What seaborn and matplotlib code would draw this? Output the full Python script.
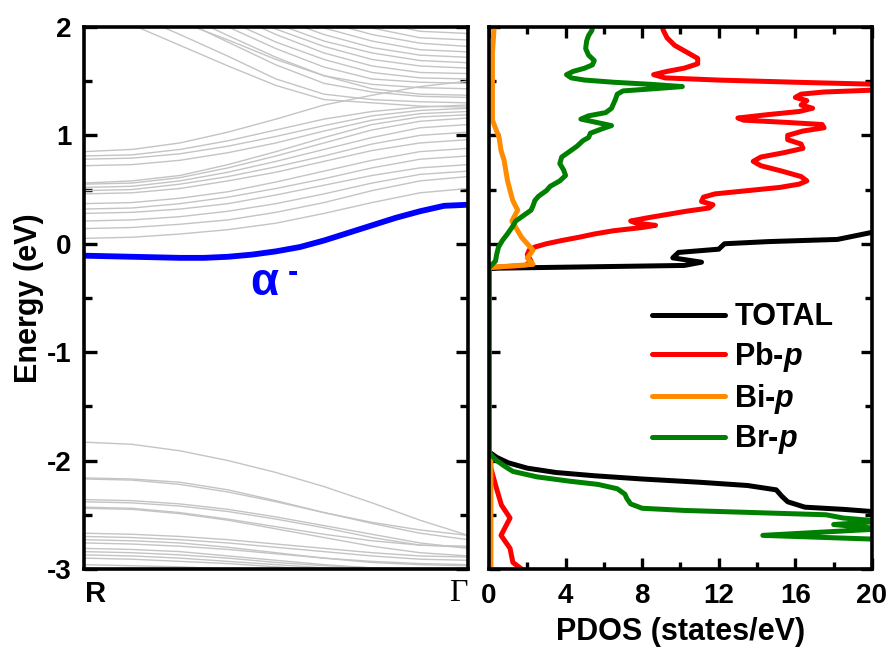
import numpy as np
import pandas as pd
import matplotlib
matplotlib.use("Agg")
import matplotlib.pyplot as plt
from matplotlib.ticker import MultipleLocator
import seaborn as sns

# ---- band structure (R -> Gamma), energies in eV ----
k_path = [0.0, 0.125, 0.25, 0.375, 0.5, 0.625, 0.75, 0.875, 1.0]

k_alpha = [0.0, 0.0625, 0.125, 0.1875, 0.25, 0.3125, 0.375, 0.4375, 0.5,
           0.5625, 0.625, 0.6875, 0.75, 0.8125, 0.875, 0.9375, 1.0]
alpha_band = [-0.11, -0.115, -0.12, -0.125, -0.13, -0.13, -0.12, -0.10, -0.07,
              -0.03, 0.03, 0.10, 0.17, 0.24, 0.30, 0.35, 0.36]

cond_bands = [
    [0.05, 0.06, 0.09, 0.13, 0.19, 0.28, 0.38, 0.47, 0.51],
    [0.14, 0.15, 0.18, 0.22, 0.29, 0.38, 0.49, 0.58, 0.62],
    [0.21, 0.22, 0.25, 0.30, 0.37, 0.46, 0.56, 0.64, 0.67],
    [0.28, 0.29, 0.32, 0.37, 0.45, 0.54, 0.63, 0.70, 0.73],
    [0.32, 0.33, 0.37, 0.43, 0.51, 0.60, 0.70, 0.78, 0.81],
    [0.37, 0.38, 0.42, 0.48, 0.57, 0.67, 0.77, 0.85, 0.88],
    [0.46, 0.47, 0.51, 0.58, 0.66, 0.76, 0.86, 0.93, 0.96],
    [0.49, 0.50, 0.55, 0.62, 0.71, 0.81, 0.92, 1.00, 1.03],
    [0.52, 0.53, 0.58, 0.66, 0.76, 0.87, 0.98, 1.07, 1.10],
    [0.55, 0.56, 0.61, 0.70, 0.81, 0.93, 1.05, 1.13, 1.16],
    [0.56, 0.58, 0.63, 0.73, 0.85, 0.98, 1.10, 1.17, 1.19],
    [0.72, 0.73, 0.77, 0.84, 0.93, 1.04, 1.14, 1.20, 1.22],
    [0.78, 0.79, 0.83, 0.90, 0.99, 1.09, 1.18, 1.23, 1.25],
    [0.81, 0.82, 0.87, 0.95, 1.05, 1.15, 1.22, 1.26, 1.28],
    [0.85, 0.87, 0.93, 1.03, 1.15, 1.28, 1.37, 1.45, 1.50],
    [2.22, 2.02, 1.83, 1.64, 1.46, 1.33, 1.30, 1.27, 1.26],
    [2.30, 2.12, 1.93, 1.73, 1.52, 1.38, 1.33, 1.31, 1.30],
    [2.35, 2.20, 2.05, 1.88, 1.70, 1.55, 1.43, 1.38, 1.37],
    [2.45, 2.27, 2.07, 1.86, 1.65, 1.48, 1.40, 1.36, 1.35],
    [2.50, 2.33, 2.13, 1.92, 1.72, 1.55, 1.47, 1.44, 1.43],
    [2.60, 2.42, 2.21, 2.00, 1.80, 1.63, 1.52, 1.49, 1.48],
    [2.65, 2.48, 2.28, 2.06, 1.86, 1.70, 1.58, 1.53, 1.52],
    [2.70, 2.55, 2.35, 2.13, 1.93, 1.76, 1.64, 1.58, 1.57],
    [2.75, 2.60, 2.40, 2.18, 1.98, 1.82, 1.70, 1.64, 1.62],
    [2.80, 2.65, 2.45, 2.24, 2.03, 1.87, 1.76, 1.69, 1.67],
    [2.85, 2.70, 2.50, 2.30, 2.09, 1.93, 1.81, 1.74, 1.72],
    [2.90, 2.75, 2.57, 2.37, 2.16, 1.99, 1.87, 1.79, 1.77],
    [2.95, 2.80, 2.63, 2.43, 2.23, 2.05, 1.93, 1.85, 1.82],
    [3.00, 2.88, 2.70, 2.50, 2.30, 2.12, 1.99, 1.90, 1.88],
    [3.05, 2.92, 2.76, 2.57, 2.37, 2.19, 2.05, 1.96, 1.94],
]

val_bands = [
    [-1.83, -1.85, -1.91, -2.00, -2.11, -2.24, -2.39, -2.55, -2.69],
    [-2.16, -2.17, -2.20, -2.27, -2.37, -2.48, -2.58, -2.67, -2.73],
    [-2.17, -2.18, -2.22, -2.29, -2.38, -2.48, -2.57, -2.64, -2.69],
    [-2.36, -2.37, -2.40, -2.45, -2.52, -2.60, -2.68, -2.76, -2.81],
    [-2.38, -2.39, -2.42, -2.47, -2.54, -2.62, -2.71, -2.78, -2.80],
    [-2.43, -2.44, -2.48, -2.54, -2.61, -2.68, -2.74, -2.78, -2.79],
    [-2.44, -2.45, -2.49, -2.55, -2.63, -2.71, -2.79, -2.85, -2.88],
    [-2.67, -2.68, -2.70, -2.73, -2.77, -2.81, -2.85, -2.88, -2.89],
    [-2.70, -2.71, -2.73, -2.76, -2.80, -2.84, -2.88, -2.91, -2.92],
    [-2.73, -2.74, -2.76, -2.80, -2.85, -2.90, -2.94, -2.96, -2.97],
    [-2.76, -2.77, -2.79, -2.82, -2.86, -2.90, -2.93, -2.95, -2.96],
    [-2.81, -2.82, -2.84, -2.88, -2.92, -2.96, -2.99, -3.01, -3.02],
    [-2.84, -2.85, -2.87, -2.90, -2.94, -2.97, -2.99, -3.00, -3.00],
    [-2.87, -2.88, -2.90, -2.93, -2.96, -2.99, -3.02, -3.04, -3.05],
    [-2.90, -2.91, -2.93, -2.95, -2.98, -3.01, -3.03, -3.05, -3.05],
    [-2.96, -2.97, -2.98, -3.00, -3.02, -3.04, -3.06, -3.08, -3.08],
]

# ---- PDOS curves (traced top -> bottom), DOS in states/eV ----
total_E = [0.25, 0.105, 0.04, 0.02, 0.0, -0.05, -0.08, -0.13, -0.17, -0.20, -0.225, -0.23,
           -1.92, -1.97, -2.02, -2.07, -2.11, -2.14, -2.17, -2.20, -2.23, -2.27, -2.33,
           -2.38, -2.43, -2.45, -2.47, -2.60, -3.05]
total_dos = [25.0, 20.0, 18.2, 14.6, 12.3, 12.0, 9.9, 9.6, 11.1, 10.2, 0.5, 0.0,
             0.0, 0.4, 1.0, 2.0, 3.5, 5.5, 8.0, 11.0, 13.5, 15.0, 15.3,
             15.6, 16.5, 18.5, 20.0, 24.0, 26.0]

pb_E = [2.05, 1.97, 1.90, 1.83, 1.77, 1.71, 1.66, 1.62, 1.59, 1.56, 1.53, 1.51, 1.49, 1.47,
        1.42, 1.40, 1.38, 1.35, 1.32, 1.28, 1.25, 1.22, 1.19, 1.16, 1.14, 1.12, 1.10, 1.07,
        1.04, 1.00, 0.96, 0.92, 0.88, 0.84, 0.80, 0.76, 0.72, 0.67, 0.62, 0.58, 0.55, 0.52,
        0.49, 0.46, 0.43, 0.39, 0.36, 0.33, 0.30, 0.27, 0.24, 0.21, 0.19, 0.17, 0.15, 0.12,
        0.09, 0.06, 0.03, 0.0, -0.03, -0.06, -0.10, -0.16, -0.20, -0.22,
        -1.93, -2.07, -2.23, -2.41, -2.53, -2.69, -2.81, -2.94, -3.00, -3.05]
pb_dos = [9.0, 9.1, 9.3, 9.7, 10.3, 10.9, 10.9, 10.2, 9.3, 8.6, 9.2, 12.0, 16.0, 20.5,
          20.5, 17.5, 16.3, 16.0, 16.6, 16.3, 16.9, 16.2, 14.5, 13.0, 13.3, 15.5, 17.4, 17.5,
          16.4, 15.6, 15.6, 16.3, 16.4, 15.4, 14.2, 13.8, 14.2, 15.3, 16.3, 16.6, 16.2, 15.2,
          13.5, 11.8, 11.2, 11.1, 11.7, 11.5, 10.3, 9.3, 8.3, 7.4, 7.7, 8.7, 8.0, 6.5,
          5.5, 4.7, 3.8, 3.0, 2.4, 2.1, 2.0, 2.2, 1.9, 0.0,
          0.0, 0.1, 0.35, 0.65, 1.1, 0.63, 1.1, 1.25, 1.7, 1.8]

bi_E = [2.05, 1.97, 1.76, 1.14, 0.98, 0.86, 0.77, 0.58, 0.40, 0.31, 0.21, 0.06, -0.06,
        -0.13, -0.19, -0.22, -1.93, -1.95, -3.05]
bi_dos = [0.26, 0.26, 0.18, 0.18, 0.53, 0.63, 0.79, 0.97, 1.24, 1.5, 1.2, 1.7, 2.3,
          2.0, 2.3, 0.0, 0.0, 0.1, 0.1]

br_E = [2.05, 1.97, 1.92, 1.87, 1.80, 1.74, 1.69, 1.65, 1.62, 1.59, 1.56, 1.53, 1.51, 1.49,
        1.47, 1.45, 1.43, 1.41, 1.38, 1.33, 1.29, 1.25, 1.21, 1.18, 1.15, 1.12, 1.09, 1.06,
        1.02, 0.98, 0.95, 0.90, 0.85, 0.80, 0.74, 0.68, 0.63, 0.58, 0.53, 0.49, 0.44, 0.40,
        0.35, 0.31, 0.26, 0.21, 0.15, 0.09, 0.03, -0.03, -0.10, -0.16, -0.22,
        -1.93, -2.00, -2.05, -2.10, -2.15, -2.19, -2.22, -2.26, -2.31, -2.35, -2.40, -2.44,
        -2.46, -2.50, -2.53, -2.56, -2.59, -2.63, -2.69, -2.73, -2.90, -3.05]
br_dos = [5.45, 5.38, 5.2, 5.1, 5.05, 5.2, 5.5, 5.4, 5.0, 4.4, 4.05, 4.3, 5.0, 6.5,
          8.5, 10.1, 8.6, 7.0, 6.7, 6.6, 6.5, 6.4, 6.1, 5.2, 4.8, 5.6, 6.4, 5.9,
          5.3, 5.2, 4.9, 4.6, 4.2, 3.8, 3.7, 3.9, 4.0, 3.7, 3.2, 3.0, 2.6, 2.4,
          2.3, 2.2, 1.8, 1.4, 1.2, 0.96, 0.7, 0.5, 0.4, 0.34, 0.0,
          0.0, 0.4, 0.8, 1.25, 2.5, 4.2, 5.7, 6.7, 7.1, 7.2, 7.4, 8.0,
          10.2, 17.6, 18.5, 20.5, 18.0, 20.5, 14.3, 21.0, 24.0, 24.0]

pdos_series = [
    ("TOTAL", total_dos, total_E, "black"),
    ("Pb-$\\mathit{p}$", pb_dos, pb_E, "#ff0000"),
    ("Bi-$\\mathit{p}$", bi_dos, bi_E, "#ff8c00"),
    ("Br-$\\mathit{p}$", br_dos, br_E, "#008000"),
]

sns.set_style("ticks")
plt.rcParams["font.family"] = ["Liberation Sans", "DejaVu Sans"]
plt.rcParams["font.weight"] = "bold"
plt.rcParams["axes.labelweight"] = "bold"
plt.rcParams["axes.unicode_minus"] = False
plt.rcParams["mathtext.fontset"] = "custom"
plt.rcParams["mathtext.rm"] = "Liberation Sans:bold"
plt.rcParams["mathtext.it"] = "Liberation Sans:bold:italic"
for key in ["text.color", "axes.labelcolor", "axes.edgecolor", "xtick.color", "ytick.color"]:
    plt.rcParams[key] = "black"

fig = plt.figure(figsize=(8.9, 6.51), dpi=100)
ax1 = fig.add_axes([0.0944, 0.126, 0.4315, 0.8326])
ax2 = fig.add_axes([0.5494, 0.126, 0.4303, 0.8326])

# band lines
rows = []
for i, b in enumerate(cond_bands + val_bands):
    for kk, e in zip(k_path, b):
        rows.append({"band": i, "k": kk, "E": e})
bands_df = pd.DataFrame(rows)
sns.lineplot(data=bands_df, x="k", y="E", units="band", estimator=None,
             color="#c4c4c4", lw=1.0, ax=ax1, legend=False)
sns.lineplot(x=k_alpha, y=alpha_band, color="#0000ff", lw=4.2, ax=ax1,
             estimator=None)

ax1.set_xlim(0, 1)
ax1.set_ylim(-3, 2)
ax1.set_xticks([])
ax1.set_xlabel("")
ax1.set_ylabel("Energy (eV)", fontsize=22, labelpad=2)
ax1.yaxis.set_major_locator(MultipleLocator(1))
ax1.yaxis.set_minor_locator(MultipleLocator(0.5))
ax1.tick_params(axis="y", which="both", direction="in", left=True, right=True,
                width=2.4, labelsize=20, pad=9)
ax1.tick_params(axis="y", which="major", length=9)
ax1.tick_params(axis="y", which="minor", length=6)
ax1.text(0.03, -0.046, "R", transform=ax1.transAxes, fontsize=21,
         fontweight="bold", ha="center", va="center")
ax1.text(0.975, -0.046, "Γ", transform=ax1.transAxes, fontsize=23,
         family="Liberation Serif", fontweight="normal", ha="center", va="center")
ax1.text(0.47, -0.36, "α", color="#0000ff", fontsize=33, fontweight="bold",
         ha="center", va="center")
ax1.text(0.545, -0.27, "-", color="#0000ff", fontsize=22, fontweight="bold",
         ha="center", va="center")

# PDOS
for name, dos, en, col in pdos_series:
    sns.lineplot(x=dos, y=en, sort=False, estimator=None, color=col, lw=3.6,
                 ax=ax2, label=name, solid_capstyle="round", solid_joinstyle="round")

ax2.set_xlim(0, 20)
ax2.set_ylim(-3, 2)
ax2.set_xlabel("PDOS (states/eV)", fontsize=22, labelpad=6)
ax2.set_ylabel("")
ax2.xaxis.set_major_locator(MultipleLocator(4))
ax2.xaxis.set_minor_locator(MultipleLocator(2))
ax2.yaxis.set_major_locator(MultipleLocator(1))
ax2.yaxis.set_minor_locator(MultipleLocator(0.5))
ax2.tick_params(which="both", direction="in", top=True, bottom=True,
                left=True, right=True, width=2.4, labelsize=20, labelleft=False, pad=10)
ax2.tick_params(which="major", length=8)
ax2.tick_params(which="minor", length=5)

ax2.legend(loc="upper left", bbox_to_anchor=(0.425, 0.492), frameon=False,
           fontsize=22, handlelength=2.4, handletextpad=0.3, labelspacing=0.25,
           borderpad=0, borderaxespad=0)

for ax in (ax1, ax2):
    for sp in ax.spines.values():
        sp.set_linewidth(2.6)
        sp.set_visible(True)
        sp.set_zorder(5)

fig.savefig("out.png", dpi=100)
